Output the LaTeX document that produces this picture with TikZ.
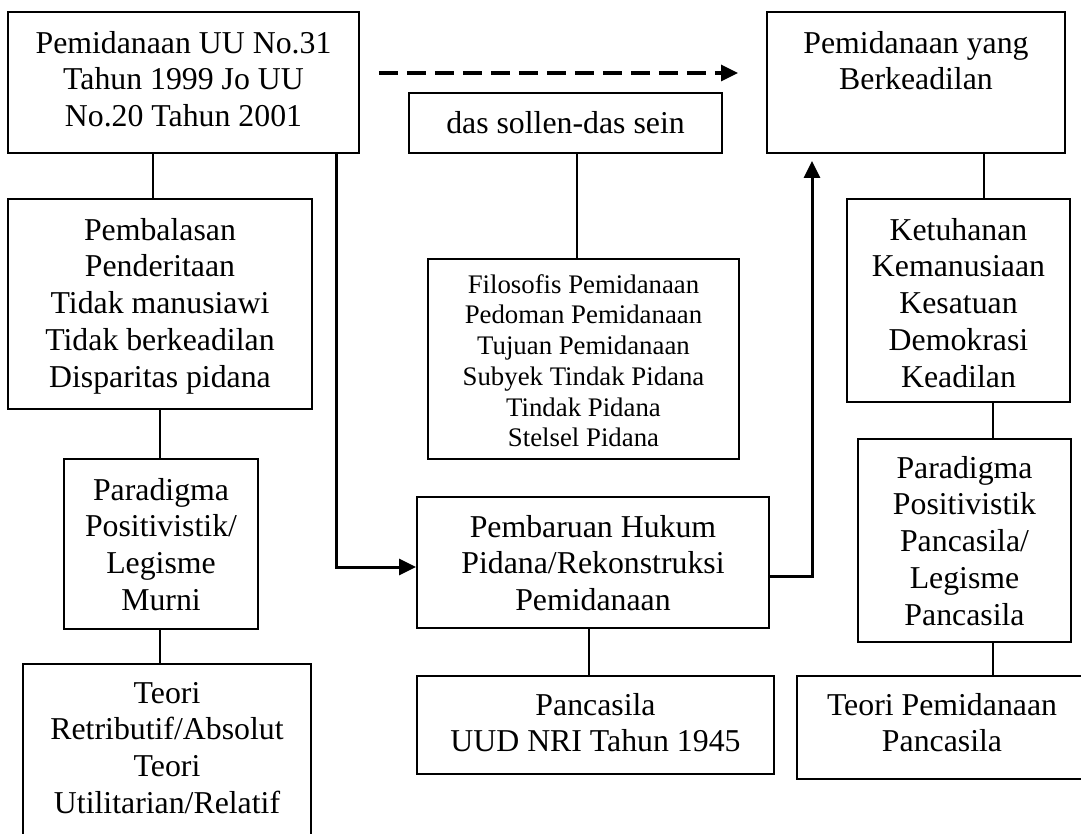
\documentclass[tikz,border=0pt]{standalone}
\usepackage{fontspec}
\setmainfont{Liberation Serif}
\usetikzlibrary{arrows.meta}
\begin{document}
\begin{tikzpicture}[x=1pt,y=-1pt,
  box/.style={draw, line width=1.9pt, inner sep=0pt},
  lbl/.style={anchor=north, inner sep=0pt, align=center, font=\fontsize{31.8}{36.7}\selectfont},
  small/.style={font=\fontsize{26.8}{30.7}\selectfont},
  link/.style={line width=1.5pt},
  arr/.style={line width=3pt, -{Triangle[length=17pt,width=16pt]}},
  darr/.style={line width=3.2pt, dash pattern=on 19pt off 9pt, -{Triangle[length=17pt,width=16pt]}}]
\clip (0,0) rectangle (1081,834);
\fill[white] (0,0) rectangle (1081,834);
% boxes
\node[box, minimum width=351pt, minimum height=141pt] (b1) at (183.5,82.5) {};
\node[box, minimum width=304pt, minimum height=210pt] (b2) at (160,304) {};
\node[box, minimum width=194pt, minimum height=170pt] (b3) at (161,544) {};
\node[box, minimum width=288pt, minimum height=196pt] (b4) at (167,762) {};
\node[box, minimum width=313pt, minimum height=60pt] (b5) at (565.5,123) {};
\node[box, minimum width=311pt, minimum height=200pt] (b6) at (583.5,359) {};
\node[box, minimum width=352pt, minimum height=131pt] (b7) at (593,562.5) {};
\node[box, minimum width=357pt, minimum height=98pt] (b8) at (595.5,725) {};
\node[box, minimum width=298pt, minimum height=141pt] (b9) at (916,82.5) {};
\node[box, minimum width=223pt, minimum height=203pt] (b10) at (958.5,300.5) {};
\node[box, minimum width=213pt, minimum height=203pt] (b11) at (964.5,540.5) {};
\node[box, minimum width=298pt, minimum height=103pt] (b12) at (946,727.5) {};
% texts
\node[lbl] (t1) at (183.5,25) {\rule{0pt}{28pt}Pemidanaan UU No.31\\Tahun 1999 Jo UU\\No.20 Tahun 2001};
\node[lbl] (t2) at (160,212) {\rule{0pt}{28pt}Pembalasan\\Penderitaan\\Tidak manusiawi\\Tidak berkeadilan\\Disparitas pidana};
\node[lbl] (t3) at (161,472) {\rule{0pt}{28pt}Paradigma\\Positivistik/\\Legisme\\Murni};
\node[lbl] (t4) at (167,675) {\rule{0pt}{28pt}Teori\\Retributif/Absolut\\Teori\\Utilitarian/Relatif};
\node[lbl] (t5) at (565.5,105) {\rule{0pt}{28pt}das sollen-das sein};
\node[lbl, small] (t6) at (583.5,269) {\rule{0pt}{24pt}Filosofis Pemidanaan\\Pedoman Pemidanaan\\Tujuan Pemidanaan\\Subyek Tindak Pidana\\Tindak Pidana\\Stelsel Pidana};
\node[lbl] (t7) at (593,509) {\rule{0pt}{28pt}Pembaruan Hukum\\Pidana/Rekonstruksi\\Pemidanaan};
\node[lbl] (t8) at (595.5,687) {\rule{0pt}{28pt}Pancasila\\UUD NRI Tahun 1945};
\node[lbl] (t9) at (916,25) {\rule{0pt}{28pt}Pemidanaan yang\\Berkeadilan};
\node[lbl] (t10) at (958.5,212) {\rule{0pt}{28pt}Ketuhanan\\Kemanusiaan\\Kesatuan\\Demokrasi\\Keadilan};
\node[lbl] (t11) at (964.5,450) {\rule{0pt}{28pt}Paradigma\\Positivistik\\Pancasila/\\Legisme\\Pancasila};
\node[lbl] (t12) at (942,687) {\rule{0pt}{28pt}Teori Pemidanaan\\Pancasila};
% connectors
\draw[link] (b1.south -| 153,0) -- (b2.north -| 153,0);
\draw[link] (b2.south -| 160,0) -- (b3.north -| 160,0);
\draw[link] (b3.south -| 160,0) -- (b4.north -| 160,0);
\draw[link] (b5.south -| 577,0) -- (b6.north -| 577,0);
\draw[link] (b7.south -| 589,0) -- (b8.north -| 589,0);
\draw[link] (b9.south -| 984,0) -- (b10.north -| 984,0);
\draw[link] (b10.south -| 993,0) -- (b11.north -| 993,0);
\draw[link] (b11.south -| 993,0) -- (b12.north -| 993,0);
\draw[arr] (b1.south -| 336,0) |- (b7.west |- 0,567);
\draw[arr, shorten >=7pt] (b7.east |- 0,576) -| (b9.south -| 812,0);
\draw[darr, shorten <=19pt, shorten >=28pt] (b1.east |- 0,73) -- (b9.west |- 0,73);
\end{tikzpicture}
\end{document}
